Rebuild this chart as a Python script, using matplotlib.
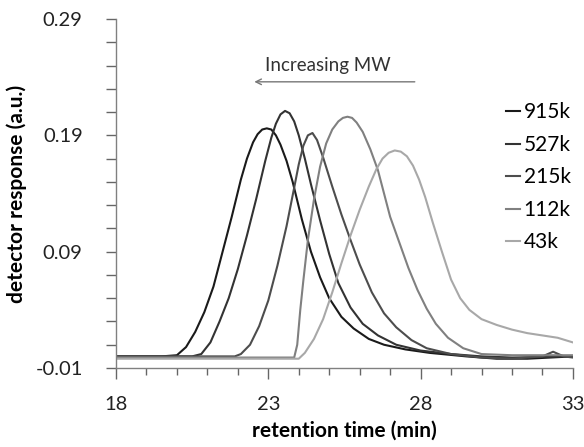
import matplotlib.pyplot as plt

plt.rcParams['font.family'] = ['Lato', 'DejaVu Sans']

# Data
t_915 = [18, 19.5, 20.0, 20.3, 20.6, 20.9, 21.2, 21.5, 21.8, 22.1, 22.3, 22.5, 22.65,
         22.8, 22.95, 23.1, 23.25, 23.4, 23.6, 23.8, 24.1, 24.4, 24.7, 25.0, 25.4, 25.8,
         26.3, 26.8, 27.5, 28.3, 29.5, 30.5, 31.5, 33]
v_915 = [0.0, 0.0, 0.001, 0.008, 0.021, 0.038, 0.060, 0.090, 0.120, 0.152, 0.170, 0.184,
         0.191, 0.195, 0.196, 0.195, 0.190, 0.182, 0.168, 0.150, 0.118, 0.090, 0.068,
         0.050, 0.034, 0.024, 0.015, 0.010, 0.006, 0.003, 0.000, -0.002, -0.002, 0.0]

t_527 = [18, 20.5, 20.8, 21.1, 21.4, 21.7, 22.0, 22.3, 22.6, 22.9, 23.1, 23.25, 23.4,
         23.55, 23.7, 23.85, 24.0, 24.2, 24.4, 24.7, 25.0, 25.3, 25.7, 26.1, 26.6, 27.2,
         28, 29, 30, 31, 33]
v_527 = [0.0, 0.0, 0.002, 0.012, 0.030, 0.050, 0.075, 0.104, 0.135, 0.168, 0.188, 0.200,
         0.208, 0.211, 0.209, 0.202, 0.190, 0.170, 0.148, 0.117, 0.088, 0.063, 0.042,
         0.028, 0.018, 0.010, 0.005, 0.002, 0.000, -0.001, 0.0]

t_215 = [18, 21.9, 22.1, 22.4, 22.7, 23.0, 23.3, 23.6, 23.85, 24.0, 24.15, 24.3, 24.45,
         24.6, 24.8, 25.1, 25.4, 25.7, 26.0, 26.4, 26.8, 27.2, 27.7, 28.2, 29, 30, 31,
         32, 32.35, 32.7, 33]
v_215 = [0.0, 0.0, 0.002, 0.010, 0.026, 0.048, 0.078, 0.112, 0.145, 0.165, 0.181, 0.190,
         0.192, 0.186, 0.171, 0.146, 0.122, 0.100, 0.079, 0.055, 0.037, 0.025, 0.014,
         0.007, 0.002, -0.001, -0.002, 0.0, 0.004, 0.0, -0.001]

t_112 = [18, 23.85, 23.95, 24.05, 24.15, 24.3, 24.5, 24.7, 24.9, 25.1, 25.3, 25.45,
         25.6, 25.75, 25.9, 26.1, 26.35, 26.6, 26.8, 27.0, 27.3, 27.6, 27.9, 28.2, 28.5,
         28.9, 29.4, 30.0, 31, 32, 33]
v_112 = [-0.001, -0.001, 0.010, 0.040, 0.065, 0.100, 0.135, 0.163, 0.183, 0.195, 0.202,
         0.205, 0.206, 0.205, 0.201, 0.193, 0.178, 0.160, 0.140, 0.120, 0.098, 0.076,
         0.057, 0.041, 0.028, 0.016, 0.007, 0.002, 0.001, 0.001, 0.001]

t_43 = [18, 24.0, 24.2, 24.5, 24.8, 25.1, 25.4, 25.7, 26.0, 26.3, 26.55, 26.75, 26.95,
        27.15, 27.35, 27.55, 27.75, 27.95, 28.15, 28.4, 28.7, 29.0, 29.3, 29.6, 30.0,
        30.5, 31.0, 31.5, 32.0, 32.5, 33]
v_43 = [-0.002, -0.002, 0.003, 0.015, 0.032, 0.055, 0.080, 0.104, 0.126, 0.146, 0.161,
        0.170, 0.175, 0.177, 0.176, 0.172, 0.164, 0.152, 0.137, 0.115, 0.090, 0.066,
        0.050, 0.040, 0.032, 0.027, 0.023, 0.020, 0.018, 0.016, 0.012]

labels = ['915k', '527k', '215k', '112k', '43k']
colors = ['#1a1a1a', '#333333', '#4d4d4d', '#808080', '#a8a8a8']

y_major = [-0.01, 0.09, 0.19, 0.29]
y_major_labels = ['-0.01', '0.09', '0.19', '0.29']
y_minor = [-0.01 + 0.02 * i for i in range(16)]
x_major = [18, 23, 28, 33]
x_minor = list(range(18, 34))

fig = plt.figure(figsize=(5.84, 4.47), dpi=100)
ax = fig.add_axes([0.1986, 0.1767, 0.7824, 0.7808])

series = [(t_915, v_915), (t_527, v_527), (t_215, v_215), (t_112, v_112), (t_43, v_43)]
for (t, v), lab, c in zip(series, labels, colors):
    ax.plot(t, v, color=c, lw=1.5, label=lab)

ax.set_xlim(18, 33)
ax.set_ylim(-0.01, 0.29)
ax.set_xticks(x_major)
ax.set_xticks(x_minor, minor=True)
ax.set_yticks(y_major)
ax.set_yticklabels(y_major_labels)
ax.set_yticks(y_minor, minor=True)

for s in ['top', 'right']:
    ax.spines[s].set_visible(False)
for s in ['left', 'bottom']:
    ax.spines[s].set_color('#808080')
    ax.spines[s].set_linewidth(1.0)

tick_col = '#666666'
ax.tick_params(axis='both', which='major', color=tick_col, labelcolor='#222222',
               labelsize=14.5, width=1.0)
ax.tick_params(axis='both', which='minor', color=tick_col, width=1.0)
ax.tick_params(axis='x', which='major', length=8, pad=12)
ax.tick_params(axis='x', which='minor', length=5)
ax.tick_params(axis='y', which='major', length=7, pad=17)
ax.tick_params(axis='y', which='minor', length=7)

ax.set_xlabel('retention time (min)', fontsize=15, fontweight='bold', labelpad=6)
ax.set_ylabel('detector response (a.u.)', fontsize=15, fontweight='bold', labelpad=6)

# Increasing MW annotation
ax.annotate('', xy=(22.45, 0.236), xytext=(27.9, 0.236),
            arrowprops=dict(arrowstyle='->', color='#777777', lw=1.0))
ax.text(24.95, 0.243, 'Increasing MW', fontsize=13.5, color='#333333',
        ha='center', va='bottom')

ax.legend(loc='upper left', bbox_to_anchor=(0.835, 0.785), frameon=False,
          fontsize=15, handlelength=0.7, handletextpad=0.15, labelspacing=0.6,
          borderaxespad=0)

fig.savefig('out.png', dpi=100)
